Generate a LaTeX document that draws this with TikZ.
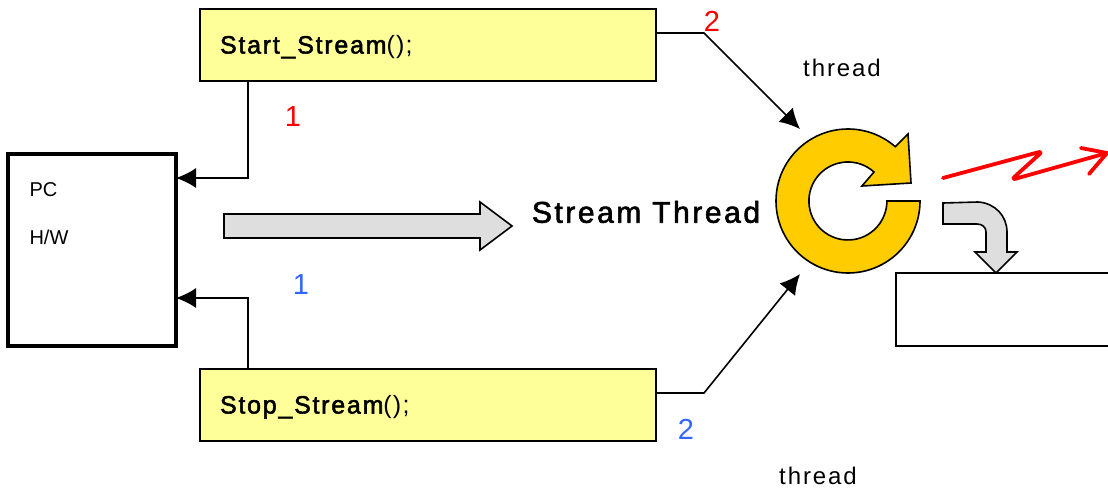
\documentclass[tikz,border=0pt]{standalone}
\usepackage{fontspec}
\setmainfont{Liberation Sans}
\newfontfamily\spaced[LetterSpace=8]{Liberation Sans}
\newfontfamily\spacedbold[LetterSpace=8.5, FakeBold=2]{Liberation Sans}
\newfontfamily\codebold[LetterSpace=7, FakeBold=2]{Liberation Sans}
\newfontfamily\codeplain[LetterSpace=5]{Liberation Sans}
\definecolor{boxyellow}{HTML}{FFFF99}
\definecolor{ringgold}{HTML}{FFCC00}
\definecolor{numblue}{HTML}{3366FF}
\usetikzlibrary{arrows.meta}
\tikzset{
  codebox/.style={draw, fill=boxyellow, line width=1.6pt, outer sep=0pt, anchor=north west, minimum height=72pt,
    text width=416pt, inner xsep=20pt, align=left, font=\fontsize{25}{28}\selectfont},
  conn/.style={draw, line width=1.6pt, -{Latex[length=20pt,width=20pt]}},
  blockarrow/.style={draw, line width=1.6pt, fill=black!13, line join=miter},
  num/.style={font=\fontsize{29}{32}\selectfont},
  label/.style={font=\fontsize{24}{28}\spaced},
  small/.style={font=\fontsize{20}{24}\selectfont, anchor=west}
}
\begin{document}
\begin{tikzpicture}[x=1pt, y=-1pt]
    \clip (0, 0) rectangle (1108, 493);

    \node[draw, line width=3.2pt, outer sep=0pt, minimum width=168pt, minimum height=192pt, anchor=north west] (pc) at (8, 154) {};
    \node[small] (pctext) at (26, 190) {PC};
    \node[small] (hwtext) at (26, 237) {H/W};

    \node[codebox] (start) at (200, 9) {\raisebox{-8.5pt}[0pt][0pt]{{\codebold Start\_Stream}{\codeplain ();}}};
    \node[codebox] (stop) at (200, 369) {\raisebox{-8.5pt}[0pt][0pt]{{\codebold Stop\_Stream}{\codeplain ();}}};
    \node[draw, line width=1.6pt, outer sep=0pt, minimum width=240pt, minimum height=73pt, anchor=north west] (buffer) at (896, 273) {};

    % ring
    \coordinate (ringtop) at (800, 129);
    \coordinate (ringbottom) at (800, 274);
    \draw[line width=1.6pt, fill=ringgold, line join=miter] (920, 201) arc[start angle=0, end angle=311, radius=72]
      -- (908, 134) -- (911, 183) -- (862, 186) -- (874, 172)
      arc[start angle=312, end angle=0, radius=39] -- cycle;

    % connectors
    \draw[conn] ([xshift=48pt]start.south west) |- ([yshift=-24pt]pc.north east);
    \draw[conn] ([xshift=48pt]stop.north west) |- ([yshift=-144pt]pc.north east);
    \draw[conn] ([yshift=12pt]start.east) -- ++(48, 0) -- (ringtop);
    \draw[conn] ([yshift=12pt]stop.east) -- ++(48, 0) -- (ringbottom);

    % block arrows
    \draw[blockarrow] (224, 214) -- (480, 214) -- (480, 202) -- (512, 226) -- (480, 250) -- (480, 238) -- (224, 238) -- cycle;
    \draw[blockarrow] (943, 203) -- (978, 202) .. controls (995, 203) and (1007, 216) .. (1007, 232) -- (1007, 252) -- (1017, 252)
      -- (996, 273) -- (975, 252) -- (986, 252) -- (986, 232) .. controls (986, 227) and (982, 224) .. (977, 224) -- (943, 224) -- cycle;

    % red line
    \draw[red, line width=3.8pt, line join=round, line cap=round, rounded corners=5pt] (943, 178) -- (1043, 151)
      -- (1011, 180) -- (1107, 153);
    \draw[red, line width=3.8pt, line cap=round, line join=round] (1081, 148) -- (1107, 153) -- (1089, 174);

    \node[label] (threadup) at (842, 68) {thread};
    \node[label] (threaddown) at (818, 476) {thread};
    \node[font=\fontsize{30}{34}\spacedbold] (title) at (646, 212) {Stream Thread};

    \node[num, red] (redone) at (293, 117) {1};
    \node[num, red] (redtwo) at (712, 21) {2};
    \node[num, numblue] (blueone) at (301, 285) {1};
    \node[num, numblue] (bluetwo) at (686, 429) {2};
\end{tikzpicture}
\end{document}
